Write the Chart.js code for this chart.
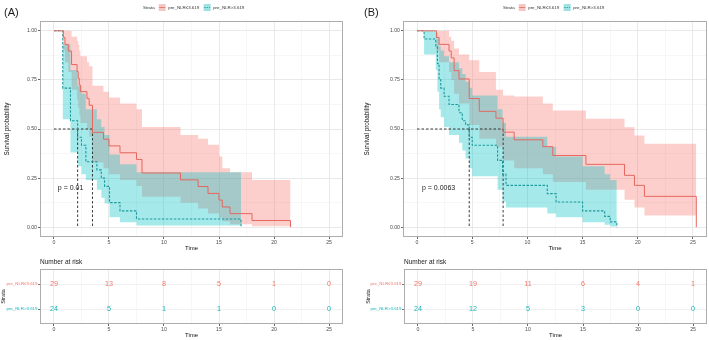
<!DOCTYPE html>
<html>
<head>
<meta charset="utf-8">
<title>Survival by pre_NLR</title>
<script src="https://cdn.jsdelivr.net/npm/chart.js@4.4.1/dist/chart.umd.min.js"></script>
<style>
  body { margin: 0; background: #fff; }
  #wrap { position: relative; width: 709px; height: 340px; overflow: hidden; }
  canvas { position: absolute; }
</style>
</head>
<body>
<div id="wrap">
  <canvas id="kmA" width="354" height="255" style="left:0;top:0"></canvas>
  <canvas id="riskA" width="354" height="85" style="left:0;top:255px"></canvas>
  <canvas id="kmB" width="349" height="255" style="left:360px;top:0"></canvas>
  <canvas id="riskB" width="349" height="85" style="left:360px;top:255px"></canvas>
</div>
<script>
const strata = ['pre_NLR≤3.619', 'pre_NLR>3.619'];
const timeTicks = [0, 5, 10, 15, 20, 25];
const survTicks = [0, 0.25, 0.5, 0.75, 1];
const riskTimes = [0, 5, 10, 15, 20, 25];

// panel (A)
const aLowTime  = [0, 0.85, 1.0, 1.3, 1.6, 2.1, 2.2, 2.3, 2.4, 3.0, 3.2, 3.5, 4.5, 5.0, 6.0, 7.5, 8.0, 11.5, 13.1, 14.0, 15.0, 15.3, 16.0, 18.0, 21.5];
const aLowSurv  = [1, 0.966, 0.931, 0.897, 0.828, 0.793, 0.759, 0.724, 0.690, 0.655, 0.621, 0.483, 0.448, 0.414, 0.379, 0.345, 0.276, 0.241, 0.207, 0.172, 0.138, 0.103, 0.069, 0.034, 0];
const aLowUpper = [1, 1, 1, 1, 0.97, 0.95, 0.93, 0.90, 0.87, 0.84, 0.82, 0.72, 0.69, 0.66, 0.63, 0.60, 0.51, 0.47, 0.45, 0.42, 0.36, 0.30, 0.28, 0.24, 0.24];
const aLowLower = [1, 0.90, 0.84, 0.79, 0.70, 0.65, 0.61, 0.57, 0.53, 0.50, 0.46, 0.33, 0.30, 0.27, 0.24, 0.21, 0.155, 0.125, 0.095, 0.07, 0.048, 0.03, 0.015, 0.005, 0.005];
const aHighTime  = [0, 0.8, 1.5, 2.15, 2.5, 2.9, 3.9, 4.3, 4.6, 5.05, 6.0, 7.5, 17.0];
const aHighSurv  = [1, 0.708, 0.542, 0.458, 0.417, 0.333, 0.292, 0.25, 0.208, 0.125, 0.083, 0.042, 0];
const aHighUpper = [1, 0.93, 0.80, 0.72, 0.68, 0.60, 0.55, 0.51, 0.47, 0.37, 0.32, 0.28, 0.28];
const aHighLower = [1, 0.55, 0.38, 0.31, 0.27, 0.24, 0.19, 0.15, 0.12, 0.05, 0.025, 0.008, 0.008];
const aMedians = [3.5, 2.15];
const aRiskLow  = [29, 13, 8, 5, 1, 0];
const aRiskHigh = [24, 5, 1, 1, 0, 0];
const aPValue = 'p = 0.01';

// panel (B)
const bLowTime  = [0, 1.76, 2.0, 2.9, 3.1, 3.36, 3.8, 4.73, 5.64, 7.15, 7.8, 8.8, 11.4, 12.3, 15.3, 18.8, 19.7, 20.6, 25.3];
const bLowSurv  = [1, 0.966, 0.931, 0.897, 0.862, 0.797, 0.755, 0.655, 0.590, 0.555, 0.484, 0.445, 0.41, 0.365, 0.32, 0.264, 0.213, 0.157, 0];
const bLowUpper = [1, 1, 1, 0.97, 0.95, 0.91, 0.88, 0.85, 0.79, 0.70, 0.67, 0.665, 0.63, 0.594, 0.552, 0.509, 0.467, 0.425, 0.425];
const bLowLower = [1, 0.90, 0.84, 0.79, 0.75, 0.68, 0.63, 0.52, 0.45, 0.41, 0.34, 0.30, 0.27, 0.23, 0.19, 0.14, 0.10, 0.06, 0.06];
const bHighTime  = [0, 0.64, 1.7, 1.85, 2.0, 2.15, 2.45, 2.9, 3.8, 4.1, 4.4, 4.73, 5.0, 7.3, 7.75, 8.06, 11.8, 12.6, 15.0, 17.0, 17.5, 18.1];
const bHighSurv  = [1, 0.958, 0.917, 0.833, 0.75, 0.708, 0.667, 0.625, 0.583, 0.542, 0.521, 0.458, 0.417, 0.34, 0.27, 0.213, 0.171, 0.128, 0.083, 0.055, 0.027, 0];
const bHighUpper = [1, 1, 0.99, 0.96, 0.92, 0.90, 0.87, 0.84, 0.81, 0.78, 0.74, 0.71, 0.67, 0.60, 0.53, 0.46, 0.41, 0.36, 0.31, 0.27, 0.24, 0.24];
const bHighLower = [1, 0.88, 0.80, 0.69, 0.60, 0.56, 0.51, 0.47, 0.43, 0.39, 0.35, 0.30, 0.26, 0.19, 0.13, 0.10, 0.07, 0.05, 0.025, 0.012, 0.004, 0.004];
const bMedians = [7.8, 4.73];
const bRiskLow  = [29, 19, 11, 6, 4, 1];
const bRiskHigh = [24, 12, 5, 3, 0, 0];
const bPValue = 'p = 0.0063';

const FONT = '"Liberation Sans", Arial, sans-serif';
Chart.defaults.font.family = FONT;
Chart.defaults.animation = false;

const redLine = '#E5675E', tealLine = '#1C9A9E';
const redFill = 'rgba(248,118,109,0.35)', tealFill = 'rgba(0,191,196,0.35)';
const redText = '#F0766D', tealText = '#13B5B9';

function pts(t, v) { return t.map((x, i) => ({ x: x, y: v[i] })); }

function withMinor(major) {
  const out = [];
  major.forEach((v, i) => { out.push(v); if (i < major.length - 1) out.push((v + major[i + 1]) / 2); });
  return out;
}

function gridStyle(major) {
  const isMajor = c => c.tick && major.includes(c.tick.value);
  return {
    color: c => isMajor(c) ? '#E6E6E6' : '#F2F2F2',
    lineWidth: c => isMajor(c) ? 0.9 : 0.6,
    tickColor: c => isMajor(c) ? '#555' : 'rgba(0,0,0,0)',
    tickLength: 2
  };
}

function timeScale(height, titlePad) {
  return {
    type: 'linear', min: -1.27, max: 26.27,
    afterBuildTicks: s => { s.ticks = withMinor(timeTicks).map(v => ({ value: v })); },
    afterFit: s => { s.height = height; },
    border: { display: false },
    grid: gridStyle(timeTicks),
    ticks: { autoSkip: false, maxRotation: 0, padding: 0.5, color: '#4D4D4D', font: { size: 5.2 },
             callback: v => timeTicks.includes(v) ? String(v) : '' },
    title: { display: true, text: 'Time', color: '#111', font: { size: 6 }, padding: { top: 0, bottom: titlePad } }
  };
}

const panelBox = {
  id: 'panelBox',
  afterDatasetsDraw(chart) {
    const a = chart.chartArea, ctx = chart.ctx;
    ctx.save();
    ctx.strokeStyle = '#ADADAD';
    ctx.lineWidth = 1;
    ctx.strokeRect(Math.round(a.left) + 0.5, Math.round(a.top) + 0.5,
                   Math.round(a.right - a.left) - 1, Math.round(a.bottom - a.top) - 1);
    ctx.restore();
  }
};

const kmText = {
  id: 'kmText',
  afterDraw(chart, args, o) {
    const ctx = chart.ctx, xs = chart.scales.x, ys = chart.scales.y;
    ctx.save();
    ctx.textBaseline = 'middle';
    ctx.fillStyle = '#1A1A1A';
    ctx.font = '11px ' + FONT;
    ctx.fillText(o.tag, 4, 12.5);
    ctx.font = '7px ' + FONT;
    ctx.fillText(o.pText, xs.getPixelForValue(o.pAt[0]), ys.getPixelForValue(o.pAt[1]));
    // legend
    let lx = 143;
    const ly = 7.5;
    ctx.font = '4.4px ' + FONT;
    ctx.fillStyle = '#333';
    ctx.fillText('Strata', lx, ly);
    lx += ctx.measureText('Strata').width + 4;
    const keys = [[redFill, redLine, []], [tealFill, tealLine, [1.5, 1]]];
    strata.forEach((s, i) => {
      const k = keys[i];
      ctx.fillStyle = '#F5F5F5';
      ctx.fillRect(lx, ly - 3.5, 7, 7);
      ctx.fillStyle = k[0];
      ctx.fillRect(lx, ly - 3.5, 7, 7);
      ctx.strokeStyle = k[1];
      ctx.lineWidth = 0.8;
      ctx.setLineDash(k[2]);
      ctx.beginPath(); ctx.moveTo(lx + 0.5, ly); ctx.lineTo(lx + 6.5, ly); ctx.stroke();
      ctx.setLineDash([]);
      lx += 9.5;
      ctx.fillStyle = '#333';
      ctx.fillText(s, lx, ly);
      lx += ctx.measureText(s).width + 4.5;
    });
    ctx.restore();
  }
};

const riskText = {
  id: 'riskText',
  afterDatasetsDraw(chart) {
    const ctx = chart.ctx;
    ctx.save();
    ctx.textAlign = 'center';
    ctx.textBaseline = 'middle';
    ctx.font = '7.2px ' + FONT;
    chart.data.datasets.forEach((ds, i) => {
      ctx.fillStyle = ds.textColor;
      chart.getDatasetMeta(i).data.forEach((p, j) => ctx.fillText(String(ds.counts[j]), p.x, p.y));
    });
    ctx.textAlign = 'left';
    ctx.fillStyle = '#1A1A1A';
    ctx.font = '6.5px ' + FONT;
    ctx.fillText('Number at risk', chart.chartArea.left, chart.chartArea.top - 7);
    ctx.restore();
  }
};

function kmChart(id, p) {
  const dash = { borderColor: '#262626', borderWidth: 0.9, borderDash: [2.5, 2], order: 1 };
  const medianSets = p.medians.map(m => Object.assign({ data: [{ x: m, y: 0.5 }, { x: m, y: 0 }] }, dash));
  const band = { borderColor: 'rgba(0,0,0,0)', borderWidth: 0 };
  return new Chart(document.getElementById(id), {
    type: 'line',
    data: {
      datasets: [
        Object.assign({ data: pts(p.lowT, p.lowU), fill: '+1', backgroundColor: redFill, order: 3 }, band),
        Object.assign({ data: pts(p.lowT, p.lowL), fill: false, order: 3 }, band),
        Object.assign({ data: pts(p.highT, p.highU), fill: '+1', backgroundColor: tealFill, order: 2 }, band),
        Object.assign({ data: pts(p.highT, p.highL), fill: false, order: 2 }, band),
        { label: strata[0], data: pts(p.lowT, p.lowS), borderColor: redLine, borderWidth: 1, order: 0 },
        { label: strata[1], data: pts(p.highT, p.highS), borderColor: tealLine, borderWidth: 1.1, borderDash: [2.5, 1.5], order: 0 },
        Object.assign({ data: [{ x: 0, y: 0.5 }, { x: Math.max(...p.medians), y: 0.5 }] }, dash)
      ].concat(medianSets)
    },
    options: {
      responsive: false,
      events: [],
      layout: { padding: { top: 21, right: p.padRight, bottom: 0, left: 0 } },
      elements: { point: { radius: 0 }, line: { stepped: true, tension: 0 } },
      plugins: {
        legend: { display: false },
        tooltip: { enabled: false },
        kmText: { tag: p.tag, pText: p.pText, pAt: p.pAt }
      },
      scales: {
        x: timeScale(18, 3),
        y: {
          type: 'linear', min: -0.05, max: 1.05,
          afterBuildTicks: s => { s.ticks = withMinor(survTicks).map(v => ({ value: v })); },
          afterFit: s => { s.width = p.yWidth; },
          border: { display: false },
          grid: gridStyle(survTicks),
          ticks: { autoSkip: false, padding: 1, color: '#4D4D4D', font: { size: 5.2 },
                   callback: v => survTicks.includes(v) ? v.toFixed(2) : '' },
          title: { display: true, text: 'Survival probability', color: '#111', font: { size: 6.3 },
                   padding: { top: p.yTitlePad, bottom: 0 } }
        }
      }
    },
    plugins: [panelBox, kmText]
  });
}

function riskChart(id, p) {
  return new Chart(document.getElementById(id), {
    type: 'line',
    data: {
      datasets: [
        { data: riskTimes.map(t => ({ x: t, y: 2 })), counts: p.riskLow, textColor: redText, showLine: false },
        { data: riskTimes.map(t => ({ x: t, y: 1 })), counts: p.riskHigh, textColor: tealText, showLine: false }
      ]
    },
    options: {
      responsive: false,
      events: [],
      layout: { padding: { top: 14, right: p.padRight, bottom: 0, left: 0 } },
      elements: { point: { radius: 0 } },
      plugins: { legend: { display: false }, tooltip: { enabled: false } },
      scales: {
        x: timeScale(16, 1),
        y: {
          type: 'linear', min: 0.4, max: 2.6,
          afterBuildTicks: s => { s.ticks = [{ value: 1 }, { value: 2 }]; },
          afterFit: s => { s.width = p.tableWidth; },
          border: { display: false },
          grid: { color: '#EDEDED', lineWidth: 0.8, tickColor: '#555', tickLength: 2 },
          ticks: { autoSkip: false, padding: 0.5, font: { size: 4.4 },
                   color: c => c.tick && c.tick.value === 2 ? redText : tealText,
                   callback: v => v === 2 ? strata[0] : strata[1] },
          title: { display: true, text: 'Strata', color: '#111', font: { size: 5.5 },
                   padding: { top: p.tableTitlePad, bottom: 0 } }
        }
      }
    },
    plugins: [panelBox, riskText]
  });
}

const panelA = {
  tag: '(A)', pText: aPValue, pAt: [0.35, 0.2], medians: aMedians,
  lowT: aLowTime, lowS: aLowSurv, lowU: aLowUpper, lowL: aLowLower,
  highT: aHighTime, highS: aHighSurv, highU: aHighUpper, highL: aHighLower,
  riskLow: aRiskLow, riskHigh: aRiskHigh,
  yWidth: 40, yTitlePad: 3, tableWidth: 40, tableTitlePad: 0, padRight: 11
};
const panelB = {
  tag: '(B)', pText: bPValue, pAt: [0.45, 0.2], medians: bMedians,
  lowT: bLowTime, lowS: bLowSurv, lowU: bLowUpper, lowL: bLowLower,
  highT: bHighTime, highS: bHighSurv, highU: bHighUpper, highL: bHighLower,
  riskLow: bRiskLow, riskHigh: bRiskHigh,
  yWidth: 43, yTitlePad: 3, tableWidth: 44, tableTitlePad: 5, padRight: 2
};

kmChart('kmA', panelA);
riskChart('riskA', panelA);
kmChart('kmB', panelB);
riskChart('riskB', panelB);
</script>
</body>
</html>
